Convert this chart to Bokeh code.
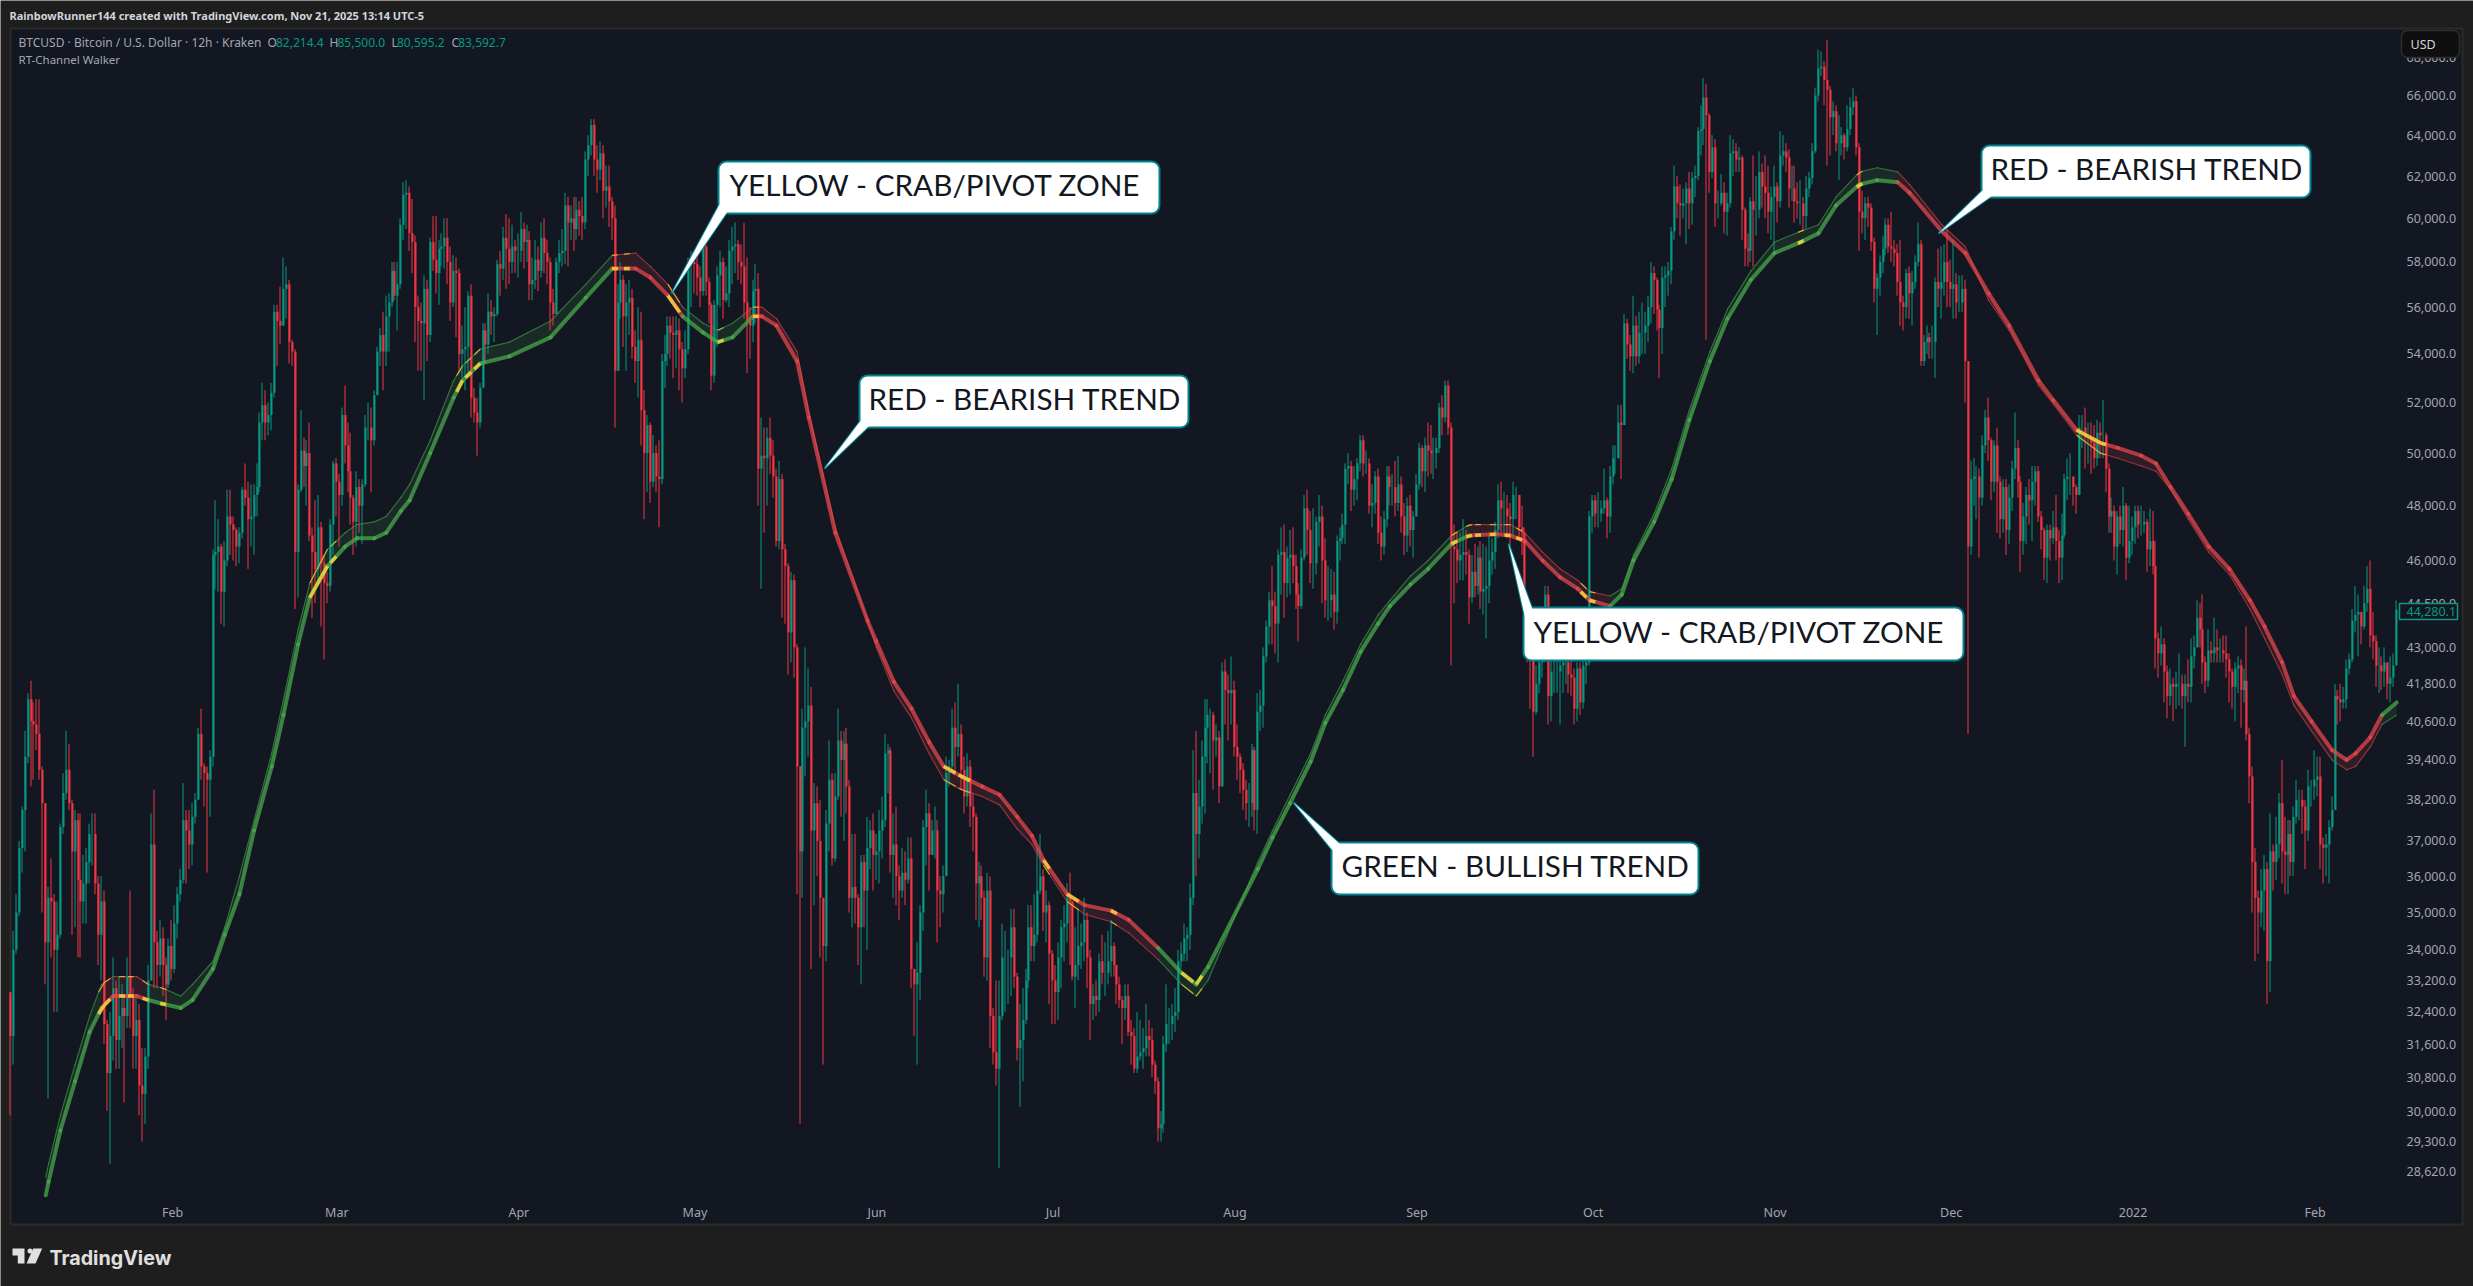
import numpy as np
from bokeh.embed import file_html
from bokeh.resources import INLINE
from bokeh.plotting import figure
from bokeh.models import BoxAnnotation, PolyAnnotation, Label, FixedTicker, NumeralTickFormatter, Range1d

# Candles: 12h bars as (close, high, low), in hundreds of USD. Each open is the previous close.
first_open = 329
candles_jan_mar = [(318,329,299),(340,345,311),(350,355,339),(368,370,349),(379,380,361),(395,403,367),(413,415,393),(406,419,386),(405,412,388),(402,413,397),(391,413,388),(381,392,350),(342,381,331),(354,357,303),(353,365,338),(340,355,324),(344,353,324),(374,375,343),(384,390,372),(391,403,382),(381,399,379),(367,382,344),(376,379,346),(359,378,338),(353,378,338),(358,366,347),(364,368,347),(372,375,358),(372,378,363),(358,378,355),(344,360,336),(353,360,332),(321,356,316),(309,322,300),(318,324,288),(330,338,312),(317,332,310),(323,333,310),(325,331,315),(323,328,302),(333,338,320),(328,356,320),(318,330,310),(322,328,310),(306,326,299),(304,315,293),(313,315,297),(332,336,310),(369,378,332),(342,385,330),(336,345,330),(343,348,333),(336,346,328),(331,338,322),(341,343,330),(335,348,332),(347,352,334),(355,357,343),(359,362,353),(376,387,358),(373,379,358),(369,379,362),(377,381,363),(382,384,375),(402,404,382),(392,410,388),(390,393,380),(388,392,361),(395,397,377),(462,464,392),(463,482,450),(465,475,449),(449,466,438),(460,467,437),(476,486,458),(473,486,462),(471,476,460),(465,472,458),(470,472,459),(486,487,468),(483,496,480),(475,489,457),(476,488,465),(484,488,462),(487,496,476),(512,516,485),(519,528,505),(512,525,505),(515,520,507),(524,528,509),(558,561,522),(554,561,535),(552,569,544),(568,582,553),(570,578,555),(545,572,536),(541,546,535),(463,542,443),(486,488,447),(501,517,485),(495,506,487),(500,505,480),(469,512,467),(463,472,440),(457,482,445),(472,484,452),(459,474,437),(452,462,426),(451,456,445),(473,475,449),(496,497,462),(489,498,476),(484,492,465),(515,518,480),(503,527,496),(493,512,485),(483,508,473),(474,484,462),(487,493,465),(480,490,470),(488,490,466),(510,515,487),(510,520,505),(505,518,485),(523,525,503),(541,543,523),(548,551,535),(541,558,525),(556,565,535),(562,566,541),(576,580,560),(565,580,563),(570,580,550),(597,600,568),(611,617,590)]
candles_mar_may = [(612,618,595),(593,615,585),(589,609,575),(560,592,545),(554,565,533),(553,562,533),(568,574,521),(548,572,537),(589,591,545),(581,601,576),(575,601,566),(586,590,561),(587,593,578),(591,600,577),(580,600,570),(562,587,554),(576,583,560),(575,582,547),(540,577,532),(542,552,530),(543,560,525),(565,567,530),(522,570,514),(516,526,512),(512,522,499),(526,528,510),(550,553,526),(544,553,536),(558,566,540),(556,563,548),(557,560,545),(579,581,556),(577,585,565),(591,596,572),(586,602,568),(580,600,570),(587,597,575),(585,590,575),(585,593,573),(595,603,580),(589,598,577),(590,597,580),(570,594,563),(572,582,563),(581,590,568),(576,587,567),(591,598,573),(584,600,575),(580,590,570),(562,582,550),(557,568,552),(580,582,560),(584,590,575),(585,595,578),(606,612,579),(598,610,578),(600,606,590),(595,610,585),(604,610,590),(601,608,592),(598,610,590),(628,632,595),(635,640,620),(645,648,630),(628,648,620),(623,635,612),(631,637,618),(613,635,600),(615,625,605),(608,625,596),(600,610,590),(533,606,510),(562,570,533),(572,580,555),(556,574,543),(562,570,533),(564,572,548),(543,568,538),(537,550,528),(546,560,522),(517,558,503),(500,525,475),(511,515,485),(489,512,481),(500,507,487),(491,503,485),(490,505,472),(537,540,488),(540,548,526),(552,556,535),(549,556,538),(548,556,530),(550,556,534),(542,555,525),(534,545,520),(542,550,530),(579,582,540),(580,585,560),(579,585,566),(573,582,565),(567,578,560),(587,589,565),(571,588,565),(561,573,553),(531,562,525),(561,563,528),(574,578,543),(580,585,560),(563,582,555),(566,578,562),(585,590,560),(587,596,570),(588,598,575),(580,590,572),(578,588,570),(562,598,555),(554,582,532),(552,560,538),(567,572,545),(568,579,553),(494,575,480),(499,514,450),(498,510,470),(506,510,480),(499,514,492),(491,505,483),(467,494,465),(490,497,464),(464,492,440),(458,466,438),(435,459,421),(453,456,425),(430,455,420),(392,431,355),(367,392,297),(404,410,354),(406,430,389),(411,423,395)]
candles_may_jul = [(373,417,335),(381,387,352),(370,386,360),(354,382,338),(341,354,311),(375,379,337),(388,400,367),(365,390,363),(383,390,364),(400,410,382),(394,403,377),(399,403,370),(386,404,378),(354,388,350),(357,372,346),(354,372,347),(346,355,336),(364,366,331),(356,366,346),(368,377,340),(373,376,362),(366,378,356),(367,372,359),(373,379,358),(376,383,365),(396,402,374),(397,399,384),(366,398,361),(369,378,354),(360,380,352),(356,363,348),(361,368,354),(359,367,352),(365,371,358),(335,371,330),(331,335,318),(334,342,311),(350,352,327),(374,376,345),(378,385,363),(366,381,356),(373,376,368),(373,380,365),(356,376,342),(355,360,346),(360,363,350),(390,395,360),(392,394,386),(404,410,390),(398,412,390),(402,418,395),(391,405,385),(383,395,378),(392,396,380),(380,394,374),(377,384,367),(358,378,348),(360,364,346),(354,363,348),(338,356,333),(356,361,332),(323,360,315),(314,325,311),(310,332,306),(323,332,287),(338,347,322),(338,345,324),(338,340,326),(346,351,328),(333,351,330),(315,334,312),(317,326,301),(322,330,307),(332,335,321),(346,352,330),(341,352,337),(344,355,337),(356,368,342),(360,372,355),(350,362,345),(352,356,342),(339,353,326),(332,340,321),(329,336,321),(338,342,322),(346,348,330),(347,352,337),(354,358,342),(353,361,336),(333,353,332),(336,346,325),(341,351,332),(342,347,335),(348,354,337),(338,350,330),(326,340,317),(328,331,322),(327,332,323),(337,339,324),(334,344,331),(334,342,328),(337,345,331),(341,348,333),(336,342,333),(331,336,326),(327,333,325),(325,328,316),(328,331,322),(319,331,318),(318,322,311),(310,320,309),(313,324,309),(314,322,312),(315,320,310),(318,326,313),(317,322,313),(311,320,308),(307,312,304),(296,308,293),(297,300,293),(316,318,295),(321,331,314),(321,325,316),(323,326,317),(324,330,319),(337,340,322),(339,342,335),(343,347,337),(344,346,337),(354,358,340),(384,397,352),(372,403,360),(380,388,365),(395,400,375)]
candles_jul_oct = [(404,413,378),(408,413,393),(408,410,390),(400,409,385),(401,405,395),(386,403,381),(422,425,386),(416,426,405),(415,421,400),(416,427,405),(398,419,395),(395,405,388),(391,396,384),(385,393,379),(381,388,376),(381,387,374),(397,399,377),(379,398,373),(409,415,372),(411,416,403),(427,430,404),(437,439,425),(446,449,431),(444,458,431),(438,449,428),(462,464,425),(463,472,448),(452,473,440),(461,465,447),(462,471,448),(458,472,452),(448,462,443),(444,452,432),(461,464,443),(479,484,460),(471,486,462),(459,478,452),(459,479,450),(474,476,455),(476,484,465),(460,480,445),(446,468,440),(446,458,439),(448,457,440),(442,456,436),(467,469,438),(468,472,460),(473,477,466),(494,496,466),(495,500,488),(486,497,478),(490,495,480),(496,498,482),(505,507,493),(496,507,491),(496,501,492),(480,498,477),(481,488,472),(491,493,477),(470,494,466),(465,476,460),(475,478,462),(491,495,472),(487,495,480),(487,492,480),(481,497,476),(488,499,478),(476,491,470),(469,481,462),(480,483,463),(471,484,465),(476,478,461),(488,492,476),(502,504,486),(493,503,487),(503,506,485),(501,512,491),(500,511,492),(500,506,490),(502,506,494),(518,520,500),(514,523,507),(527,529,512),(510,529,507),(465,512,424),(464,473,445),(460,470,452),(462,470,453),(463,475,453),(462,471,455),(447,464,438),(456,462,445),(451,466,447),(461,465,448),(449,467,443),(450,466,441),(451,465,433),(460,470,445),(463,468,455),(471,474,457),(482,488,468),(479,489,470),(479,485,470),(476,484,468),(475,481,465),(484,489,468),(484,487,475),(472,484,468),(470,480,462),(446,472,440),(433,447,425),(426,434,410),(409,427,395),(418,424,408),(425,430,415),(430,440,420),(448,451,425),(414,451,405),(422,432,406),(422,430,415),(422,430,415),(424,432,405),(425,432,415),(425,432,418),(421,428,415),(420,426,414),(410,423,405),(423,425,406),(412,425,408),(424,426,410),(425,430,418),(476,478,424),(482,484,470),(477,484,472),(477,485,472),(479,482,474),(482,494,477),(476,483,468)]
candles_oct_dec = [(491,495,470),(498,503,488),(498,503,492),(512,519,498),(511,519,490),(553,557,511),(544,555,538),(539,548,533),(552,565,532),(539,556,535),(549,558,536),(549,562,540),(552,558,540),(560,565,545),(575,580,553),(572,578,557),(559,573,550),(551,561,530),(573,578,540),(574,578,560),(576,580,565),(594,596,570),(615,625,590),(607,620,600),(606,616,592),(607,614,600),(614,617,588),(607,622,595),(619,622,597),(620,625,610),(642,644,618),(643,655,630),(659,669,635),(650,666,546),(622,651,612),(634,640,619),(607,638,596),(607,613,600),(612,621,606),(603,617,593),(607,612,592),(631,640,605),(632,638,620),(628,636,622),(629,634,622),(604,630,590),(586,605,578),(585,593,578),(608,610,580),(604,630,578),(604,620,592),(622,632,600),(615,626,605),(612,630,600),(603,625,593),(610,615,590),(615,625,585),(608,617,598),(630,642,605),(632,640,625),(629,636,622),(614,633,605),(614,625,608),(608,625,598),(607,617,600),(607,618,597),(601,610,594),(614,620,595),(619,622,610),(632,636,616),(660,664,631),(674,684,657),(675,683,670),(668,678,655),(663,689,625),(649,665,630),(652,657,640),(636,655,632),(636,650,618),(640,644,630),(634,641,628),(643,655,632),(654,659,640),(657,664,650),(634,660,630),(603,636,585),(600,613,593),(607,610,590),(605,610,596),(589,607,585),(568,591,562),(573,575,548),(580,583,565),(586,592,575),(597,600,583),(587,600,584),(586,603,580),(584,590,578),(571,588,565),(562,590,552),(560,565,550),(575,577,555),(566,578,555),(571,576,552),(580,583,568),(588,598,578),(537,590,535),(545,548,535),(547,552,540),(545,549,538),(545,552,538),(571,573,530),(568,586,560),(571,587,555),(580,588,565),(571,595,560),(568,581,560),(570,590,555),(562,575,555),(562,574,558),(568,574,558),(537,572,520),(465,537,402),(490,497,462),(491,498,480),(491,495,475),(483,494,461),(503,507,480),(514,517,500),(505,522,497),(489,506,482),(503,505,485),(489,510,470),(475,491,468),(487,490,470),(471,490,462),(483,488,466)]
candles_dec_feb = [(494,497,478),(502,516,490),(489,505,483),(467,491,456),(476,481,462),(484,487,466),(482,490,473),(489,495,467),(493,495,480),(476,495,474),(471,478,464),(461,472,453),(471,473,452),(468,473,460),(472,478,466),(467,484,460),(461,471,452),(469,477,453),(490,492,468),(491,498,482),(491,500,484),(487,491,480),(484,488,477),(510,515,484),(510,515,502),(506,518,494),(506,512,496),(504,512,492),(498,511,494),(508,513,495),(507,512,498),(507,521,498),(494,508,485),(476,496,470),(478,483,470),(465,480,460),(476,478,455),(471,480,466),(480,487,465),(461,481,453),(467,480,459),(472,476,462),(478,480,466),(473,480,468),(473,480,469),(474,478,470),(464,475,456),(467,479,458),(458,478,455),(433,467,423),(428,435,420),(431,437,424),(422,433,412),(414,424,407),(418,423,411),(417,420,406),(418,422,410),(418,428,411),(414,421,410),(418,421,398),(417,426,412),(427,433,412),(430,434,423),(440,446,430),(436,445,430),(425,448,418),(419,427,415),(429,436,417),(428,432,425),(430,440,425),(429,436,425),(429,433,425),(428,434,425),(426,434,420),(422,428,412),(417,423,410),(423,425,406),(424,427,415),(416,426,404),(419,423,412),(402,437,400),(389,404,381),(364,392,350),(354,368,337),(350,356,339),(356,362,346),(362,366,345),(337,364,326),(367,378,329),(364,369,356),(369,377,359),(381,384,365),(367,394,358),(366,377,355),(372,376,355),(364,376,360),(377,380,360),(382,388,375),(382,385,376),(380,385,372),(373,382,362),(386,391,370),(386,388,380),(388,397,382),(389,395,383),(369,395,362),(368,371,358),(369,372,360),(374,376,358),(379,383,373),(414,418,379),(413,416,405),(412,418,406),(413,417,410),(423,426,410),(426,428,421),(439,443,425),(441,451,435),(442,448,427),(437,442,431),(445,451,436),(450,458,442),(434,460,430),(432,442,426),(424,434,417),(424,430,415),(422,427,416),(425,430,417),(418,425,413),(420,427,412),(424,428,417),(442.8,446,424)]

# RT-Channel Walker: bar index, fast and slow lines (hundreds of USD), trend state per sample.
band_bar = [12,13,17,22,27,31,35,39,43,47,52,58,62,69,73,78,83,89,93,98,102,108,114,118,124,128,133,136,143,151,154,160,170,184,196,205,213,218,224,229,236,241,246,253,256,261,268,272,281,292,295,301,307,313,318,324,331,337,343,348,352,360,366,375,381,391,399,404,408,425,430,436,443,448,454,460,466,470,477,483,491,497,506,511,516,522,528,534,538,545,549,553,560,566,572,579,585,593,601,610,616,622,630,636,643,647,658,666,674,681,691,696,704,712,718,726,731,736,742,749,756,763,768,774,778,784,791,796,799,804,808,813]
band_fast = [281,284,295.5,307,319,325,328,328,328,327,326,325,327,335,344,355,373,392,408,431,447,458,465,468,468,470,478,482,500,522,529,536,539,547,564,577,577,573,565,556,549,545,547,556,556,552,537,514,470,439,432,418.6,410,399.5,392,389,386,383.5,377,371.5,364.5,355,352,350.5,348,340.5,334,331,335.5,362,371,381,393.5,405.5,416,428.5,438,444,451.5,457,466,469,469.5,469,467,460,454,450,446,444,448,460,474,490,513,537,555,572,584,589,593,606,616,618,617,612,594,584,566,552,529,521,509,504,502,499,496,487,477,465,457,446,437,425,414,406,397,394,396,401,408,412]
band_slow = [285,288,299,311,323,331,333,333,333,331,330,328,331,337,346,360,376,396,413,436,452,464,470,473,474,476,483,488,505,529,535,542,545,554,570,583,584,578,570,560,553,550,553,560,560,555,541,516,472,439,430,415.6,407,396,388,385,383,380.5,373.5,369,363,353,349.5,347.5,344.5,337.5,331,328,332,364,373,383.5,396,408,419,431,441,446,454.5,460,469,473,473,473,470,463,457,453,449,447.5,450,462,477,494,517,541,559,576,589,594,597,610,622,624,622,616,597,587,563,550,527,519.5,507,500,498,495,493,486,475,463,455,443,433,421,411,403,394,391,392,398,405,408]
band_state = "GGGGGRRRRGGGGGGGGGGGGGGGGGGGGGGGGGGRRRRGGGGRRRRRRRRRRRRRRRRRRRRRRGGGGGGGGGGGGGGGGRRRRRRRRGGGGGGGGGGGGGGGRRRRRRRRRRRRRRRRRRRRRRRRRRGGGGGG"
flash_bars = [31,33,38,41,46,52,103,105,107,110,153,156,159,206,210,225,227,242,254,319,321,324,326,353,361,363,376,400,402,405,492,497,500,505,510,514,536,539,610,630,705,707,709,711,713]

price_ticks = [68000,66000,64000,62000,60000,58000,56000,54000,52000,50000,48000,46000,44500,43000,41800,40600,39400,38200,37000,36000,35000,34000,33200,32400,31600,30800,30000,29300,28620]
month_days = [0,28,59,89,120,150,181,212,242,273,303,334,365]
month_labels = ["Feb","Mar","Apr","May","Jun","Jul","Aug","Sep","Oct","Nov","Dec","2022","Feb"]
callout_texts = ["YELLOW - CRAB/PIVOT ZONE","RED - BEARISH TREND","GREEN - BULLISH TREND"]

UP, DOWN = "#089981", "#f23645"
PAGE, PANEL, EDGE = "#1e1e1e", "#131722", "#2b2b2b"
TEXT, SOFT = "#d1d4dc", "#a3a6af"
TEAL = "#00838f"
STATE = {"G": "#4caf50", "R": "#f0484f"}
FLASH = "#f7d838"
UI = "Noto Sans"

rows = candles_jan_mar + candles_mar_may + candles_may_jul + candles_jul_oct + candles_oct_dec + candles_dec_feb
close = np.array([r[0] for r in rows], dtype=float) * 100
open_ = np.r_[first_open * 100.0, close[:-1]]
high = np.maximum(np.array([r[1] for r in rows], dtype=float) * 100, np.maximum(open_, close))
low = np.minimum(np.array([r[2] for r in rows], dtype=float) * 100, np.minimum(open_, close))
bars = np.arange(len(rows))

# The frame fills the whole page, so that the header, badge, tag and logo are not clipped;
# the axes are placed with fixed_location at the right and bottom edges of the price pane.
BAR_PX, LEFT = 2.935, 10
PX_PER_LOG, TOP_PRICE, TOP_Y = 1288, 66000, 95
pane_right_bar = (2398 - LEFT) / BAR_PX
pane_bottom_price = TOP_PRICE * np.exp(-(1197 - TOP_Y) / PX_PER_LOG)
p = figure(output_backend="svg", toolbar_location=None, y_axis_type="log", y_axis_location="right",
           width=2473, height=1286, min_border=0,
           x_range=Range1d(-LEFT / BAR_PX, (2473 - LEFT) / BAR_PX),
           y_range=Range1d(TOP_PRICE * np.exp(-(1286 - TOP_Y) / PX_PER_LOG), TOP_PRICE * np.exp(TOP_Y / PX_PER_LOG)))
p.background_fill_color = PAGE
p.border_fill_color = PAGE
p.outline_line_color = None
p.grid.visible = False

def box(l, t, r, b, fill, line=None, lw=1, radius=0, level="annotation"):
    p.add_layout(BoxAnnotation(left=l, right=r, top=t, bottom=b,
                               left_units="canvas", right_units="canvas", top_units="canvas", bottom_units="canvas",
                               fill_color=fill, fill_alpha=1, line_color=line, line_width=lw, line_alpha=1 if line else 0,
                               border_radius=radius, level=level))
def poly(pts, fill, line=None, lw=1):
    p.add_layout(PolyAnnotation(xs=[a for a, _ in pts], ys=[b for _, b in pts], xs_units="canvas", ys_units="canvas",
                                fill_color=fill, fill_alpha=1, line_color=line, line_width=lw, line_alpha=1 if line else 0))
def label(x, y, t, color=TEXT, size=12, font=UI, style="normal"):
    p.add_layout(Label(x=x, y=y, x_units="canvas", y_units="canvas", text=t, text_color=color,
                       text_font=font, text_font_size=f"{size}px", text_font_style=style, text_baseline="middle"))

box(10, 28, 2462, 1224, PANEL, EDGE, 2, level="underlay")

# band
n = len(band_bar) - 1
fast, slow = np.array(band_fast) * 100, np.array(band_slow) * 100
c = [STATE[s] for s in band_state.ljust(n + 1, "G")]
xs_fill = [[band_bar[i], band_bar[i+1], band_bar[i+1], band_bar[i]] for i in range(n)]
ys_fill = [[fast[i], fast[i+1], slow[i+1], slow[i]] for i in range(n)]
p.patches(xs_fill, ys_fill, fill_color=c[:n], fill_alpha=0.13, line_color=None)
x0, x1 = band_bar[:-1], band_bar[1:]
p.segment(x0, slow[:-1], x1, slow[1:], line_color=c[:n], line_width=1.2, line_alpha=0.55, line_cap="round")

# candles, snapped to whole pixels so that 2px bodies and 1px wicks stay crisp
colors = [UP if a >= b else DOWN for a, b in zip(close, open_)]
snap = np.round(LEFT + BAR_PX * bars)
body_x = (snap - LEFT) / BAR_PX
wick_x = (snap - 0.5 - LEFT) / BAR_PX
p.segment(wick_x, low, wick_x, high, line_color=colors, line_width=1)
p.vbar(body_x, 2 / BAR_PX, np.minimum(open_, close), np.maximum(open_, close), fill_color=colors, line_color=None)

p.segment(x0, fast[:-1], x1, fast[1:], line_color=c[:n], line_width=4, line_alpha=0.7, line_cap="round")
# short yellow flashes along the band
fb = np.array(flash_bars, dtype=float)
on_fast = lambda b: np.exp(np.interp(b, band_bar, np.log(fast)))
on_slow = lambda b: np.exp(np.interp(b, band_bar, np.log(slow)))
p.segment(fb - 1, on_fast(fb - 1), fb + 1, on_fast(fb + 1), line_color=FLASH, line_width=3.5, line_alpha=0.85)
p.segment(fb - 1, on_slow(fb - 1), fb + 1, on_slow(fb + 1), line_color=FLASH, line_width=1.2, line_alpha=0.7)

# axes
ya = p.yaxis[0]
ya.fixed_location = pane_right_bar
ya.ticker = FixedTicker(ticks=price_ticks)
ya.formatter = NumeralTickFormatter(format="0,0.0")
ya.axis_line_color = None
ya.major_tick_line_color = None
ya.minor_tick_line_color = None
ya.major_tick_out = 0
ya.major_tick_in = 0
ya.major_label_text_color = SOFT
ya.major_label_text_font = UI
ya.major_label_text_font_size = "12.5px"
ya.major_label_standoff = 8
xa = p.xaxis[0]
xa.fixed_location = pane_bottom_price
month_bars = [55.2 + 2 * d for d in month_days]
xa.ticker = FixedTicker(ticks=month_bars)
xa.major_label_overrides = {b: t for b, t in zip(month_bars, month_labels)}
xa.axis_line_color = None
xa.major_tick_line_color = None
xa.minor_tick_line_color = None
xa.major_tick_out = 0
xa.major_tick_in = 0
xa.major_label_text_color = SOFT
xa.major_label_text_font = UI
xa.major_label_text_font_size = "12.5px"
xa.major_label_standoff = 6

# header and legend
label(9, 14.5, "RainbowRunner144 created with TradingView.com, Nov 21, 2025 13:14 UTC-5", TEXT, 11, UI, "bold")
label(18, 42, "BTCUSD · Bitcoin / U.S. Dollar · 12h · Kraken", SOFT, 12)
label(18, 59, "RT-Channel Walker", SOFT, 11.5)
for x, t, col in [(267, "O", SOFT), (275.5, "82,214.4", UP), (329, "H", SOFT), (337, "85,500.0", UP),
                  (391, "L", SOFT), (396.5, "80,595.2", UP), (451, "C", SOFT), (457.7, "83,592.7", UP)]:
    label(x, 42, t, col, 12)

# USD badge and last price tag
box(2401, 30, 2459, 57, "#0f0f0f", "#2e2e2e", 1.5, 6)
label(2410, 44, "USD", TEXT, 12.5)
box(2399, 603, 2457, 619, PANEL, UP, 1.5)
label(2406, 611, "44,280.1", UP, 12.5)

# callouts
def callout(l, t, r, b, tail, text, tx):
    poly(tail, "#ffffff", TEAL, 2)
    box(l, t, r, b, "#ffffff", TEAL, 2, 8)
    poly(tail, "#ffffff")
    label(tx, (t + b) / 2 - 3, text, "#131722", 29.7, "Lato")
callout(718, 161, 1159, 213, [(671, 293), (719, 204), (727, 211)], callout_texts[0], 729)
callout(859, 375, 1188, 427, [(824, 468), (861, 419), (869, 425)], callout_texts[1], 868)
callout(1981, 145, 2310, 197, [(1938, 233), (1983, 189), (1992, 195)], callout_texts[1], 1990)
callout(1523, 607, 1963, 660, [(1508, 543), (1524, 615), (1532, 609)], callout_texts[0], 1533)
callout(1331, 842, 1698, 894, [(1293, 802), (1333, 851), (1340, 844)], callout_texts[2], 1341)

# logo
poly([(12, 1248), (24, 1248), (24, 1263), (17.3, 1263), (17.3, 1255), (12, 1255)], "#e0e0e0")
box(27, 1248, 32, 1253, "#e0e0e0", None, 0, 3)
poly([(32.7, 1248), (41.7, 1248), (35, 1263), (26, 1263)], "#e0e0e0")
label(49, 1257, "TradingView", "#e0e0e0", 19.7, "Inter", "bold")

open("out.html", "w").write(file_html(p, INLINE))
